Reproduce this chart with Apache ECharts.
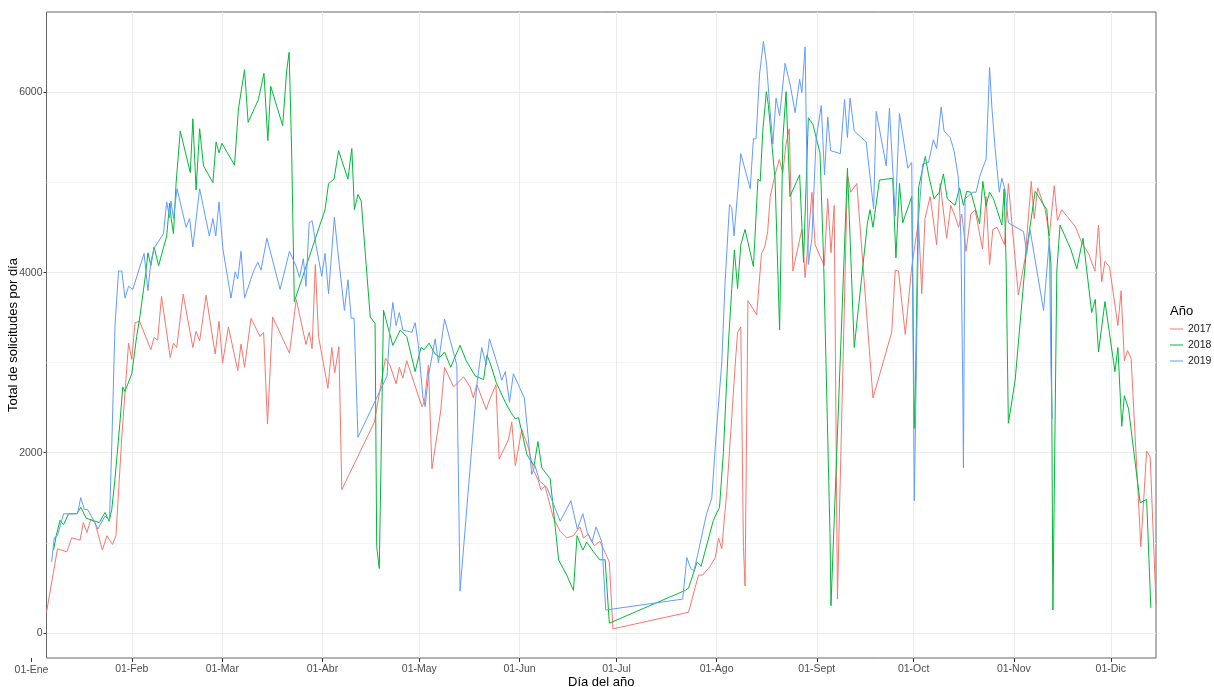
<!DOCTYPE html>
<html>
<head>
<meta charset="utf-8">
<script src="https://cdn.jsdelivr.net/npm/echarts@6/dist/echarts.min.js"></script>
<style>
  html, body { margin: 0; padding: 0; background: #fff; }
  #chart { width: 1214px; height: 687px; }
</style>
</head>
<body>
<div id="chart"></div>
<script>
// ==================== datos ====================
// día del año (0 = 01-Ene) y total de solicitudes por día

const monthDays = [31, 59, 90, 120, 151, 181, 212, 243, 273, 304, 334]
const monthLabels = ['01-Feb', '01-Mar', '01-Abr', '01-May', '01-Jun', '01-Jul', '01-Ago', '01-Sept', '01-Oct', '01-Nov', '01-Dic']
const yBreaks = [0, 2000, 4000, 6000]
const yMinorBreaks = [1000, 3000, 5000]
const years = ['2017', '2018', '2019']

const days2017 = [4.6, 8.0, 10.9, 12.4, 15.0, 16.0, 17.1, 18.3, 19.6, 21.9, 23.3, 25.0, 26.1, 27.9, 30.0, 31.0, 32.0, 33.4, 36.9, 37.9, 39.0, 40.2, 42.9, 43.9, 44.9, 46.9, 49.9, 50.9, 52.0,
  54.0, 56.8, 58.0, 59.1, 60.9, 63.8, 64.8, 65.9, 67.9, 70.7, 71.8, 73.0, 74.6, 79.8, 81.9, 84.9, 85.9, 86.8, 87.8, 88.8, 91.7, 92.9, 93.8, 95.1, 96.0, 106.1,
  109.5, 110.9, 112.8, 113.8, 114.9, 116.1, 120.8, 121.6, 122.8, 123.9, 126.6, 127.8, 130.6, 133.7, 135.7, 136.7, 137.8, 140.7, 141.7, 143.7, 144.7, 147.6, 148.6, 149.7,
  151.7, 153.8, 155.3, 156.9, 157.6, 158.9, 161.5, 163.6, 165.6, 167.7, 169.7, 170.8, 172.3, 174.1, 175.9, 178.8, 179.9, 203.3, 206.4, 207.7, 210.0, 211.6, 212.6, 213.6,
  215.2, 217.8, 218.5, 219.5, 220.3, 220.8, 221.7, 224.4, 225.9, 226.9, 227.8, 228.6, 230.1, 231.4, 232.5, 233.5, 234.5, 235.6, 238.4, 239.4, 240.4, 241.5, 242.5,
  245.3, 246.4, 247.4, 248.4, 249.4, 252.5, 253.5, 255.4, 260.4, 266.2, 267.3, 268.3, 270.4, 272.4, 273.4, 274.5, 275.5, 276.5, 278.1, 280.1, 281.2, 283.2, 284.5,
  285.8, 286.9, 287.9, 289.2, 290.7, 292.0, 294.3, 295.4, 296.5, 297.5, 298.8, 301.1, 302.3, 305.4, 307.5, 309.4, 310.3, 311.4, 313.7, 315.0, 316.5, 317.5, 318.8,
  323.0, 325.0, 327.1, 329.1, 330.2, 331.2, 332.2, 333.6, 336.2, 337.2, 338.2, 339.2, 340.3, 343.3, 345.1, 346.2, 348.0]
const vals2017 = [228, 933, 899, 1054, 1030, 1224, 1113, 1258, 1224, 918, 1079, 981, 1079, 2172, 3217, 3037, 3445, 3460, 3144, 3280, 3251, 3737, 3056, 3217, 3168, 3761, 3168, 3348, 3241,
  3751, 3095, 3460, 2998, 3397, 2911, 3207, 2949, 3494, 3290, 3338, 2318, 3508, 3105, 3703, 3202, 3338, 3154, 4091, 3290, 2716, 3168, 2886, 3178, 1589, 2342,
  3050, 2974, 2765, 2949, 2828, 3022, 2512, 2570, 2974, 1822, 2463, 2949, 2731, 2843, 2731, 2609, 2755, 2478, 2585, 2755, 1929, 2148, 2342, 1856,
  2259, 2050, 1808, 1686, 1589, 1628, 1273, 1127, 1054, 1079, 1176, 1054, 1093, 967, 1016, 787, 44, 228, 641, 641, 739, 836, 1054, 933,
  1589, 2998, 3338, 3397, 957, 520, 3688, 3532, 4213, 4286, 4456, 4845, 5087, 5257, 5112, 5427, 5598, 4018, 4480, 3946, 4383, 4893, 4310,
  4077, 4820, 4222, 4747, 374, 5087, 4893, 4990, 2609, 3338, 4028, 4018, 3314, 4067, 4310, 4577, 3766, 4601, 4845, 4310, 4990, 4383, 4747,
  4626, 4504, 4650, 4237, 4650, 4699, 4262, 4845, 4091, 4480, 4504, 4310, 4990, 3751, 4164, 5014, 4601, 4942, 4699, 4407, 4966, 4577, 4699,
  4514, 4334, 4213, 4018, 4529, 3897, 4125, 4067, 3411, 3800, 3022, 3134, 3047, 957, 2017, 1953, 326]

const days2018 = [6.8, 7.6, 8.8, 9.9, 11.4, 14.0, 15.2, 16.9, 20.9, 22.7, 24.0, 24.8, 25.8, 27.4, 28.2, 28.9, 31.0, 32.5, 33.6, 35.3, 36.0, 36.9, 37.9, 39.3, 41.8, 42.7, 43.2, 43.9, 44.7, 46.0,
  49.1, 49.9, 50.9, 52.0, 53.2, 56.1, 57.1, 58.0, 58.9, 62.8, 64.0, 65.9, 67.0, 70.2, 71.9, 73.1, 74.0, 77.7, 78.9, 79.7, 80.5, 81.3, 90.8, 91.9, 93.6, 95.0, 97.9, 99.1, 99.9,
  101.0, 102.0, 104.8, 106.3, 106.8, 107.6, 108.9, 111.8, 114.1, 116.1, 118.7, 120.5, 121.5, 123.0, 124.9, 126.4, 127.8, 129.7, 131.4, 132.6, 134.5, 137.3, 139.9, 140.9,
  141.9, 143.8, 146.6, 148.3, 149.7, 150.7, 153.3, 155.5, 156.7, 157.9, 160.5, 161.7, 163.1, 165.6, 167.7, 168.8, 170.6, 171.8, 173.9, 175.8, 177.5, 178.8,
  202.3, 203.3, 206.0, 207.2, 211.0, 212.9, 214.1, 215.7, 216.7, 217.5, 218.5, 219.5, 220.8, 223.4, 224.8, 225.5, 226.3, 227.4, 228.0, 230.1, 231.5, 232.5, 233.5,
  234.7, 237.7, 238.9, 240.4, 241.8, 244.0, 245.1, 247.1, 247.4, 252.5, 254.6, 258.7, 259.5, 260.4, 262.4, 266.5, 267.5, 268.6, 269.6, 272.4, 273.2, 273.5, 274.5,
  276.6, 277.6, 279.3, 280.9, 282.2, 283.4, 285.8, 287.2, 288.4, 289.4, 290.7, 293.4, 294.4, 295.4, 296.5, 297.7, 300.3, 301.0, 301.6, 302.3, 304.4, 307.8, 310.6,
  314.2, 315.5, 316.1, 317.3, 318.3, 321.6, 323.5, 325.4, 328.1, 329.2, 330.2, 332.2, 335.3, 336.2, 337.4, 338.2, 339.5, 343.1, 345.1, 346.4]
const vals2018 = [918, 1079, 1249, 1200, 1322, 1322, 1394, 1273, 1224, 1336, 1239, 1370, 1710, 2366, 2731, 2682, 2877, 3290, 3533, 3994, 4220, 4077, 4286, 4077, 4407, 4772, 4601, 4432, 4990, 5573,
  5112, 5709, 4917, 5598, 5185, 5000, 5452, 5330, 5437, 5194, 5816, 6254, 5670, 5923, 6215, 5466, 6069, 5632, 6229, 6448, 5306, 3678, 4699, 4990, 5039, 5355, 5039, 5379, 4699,
  4869, 4796, 3508, 3435, 957, 714, 3581, 3192, 3362, 3290, 2901, 3168, 3144, 3217, 3095, 3061, 3119, 2949, 3095, 3192, 3022, 2852, 2813, 3085,
  2998, 2779, 2561, 2449, 2376, 2391, 1978, 1856, 2123, 1832, 1710, 1297, 811, 641, 471, 1079, 918, 1006, 899, 811, 811, 107,
  471, 496, 787, 739, 1249, 1394, 2002, 3241, 3824, 4252, 3824, 4310, 4480, 4067, 5039, 5014, 5573, 6011, 5865, 5039, 3362, 5476, 6011,
  4845, 5087, 4115, 5719, 5646, 5330, 4164, 1103, 301, 5160, 3168, 4553, 4699, 4504, 5029, 5048, 4164, 4990, 4553, 4845, 2269, 2658, 4942,
  5291, 5087, 4820, 4893, 5097, 4820, 4747, 4942, 4747, 4903, 4893, 4543, 5014, 4747, 4893, 4820, 4529, 4932, 4116, 2327, 2804, 4213, 4903,
  4699, 4091, 253, 4018, 4529, 4262, 4043, 4383, 3557, 3703, 3119, 3678, 2901, 3168, 2293, 2634, 2488, 1443, 1482, 277]

const days2019 = [6.2, 7.0, 8.0, 9.9, 11.9, 14.2, 15.2, 16.3, 17.3, 19.6, 20.5, 22.7, 24.1, 24.8, 25.8, 26.9, 27.9, 28.9, 30.0, 31.3, 34.8, 36.0, 36.9, 37.9, 40.8, 41.8, 42.7, 43.1, 43.9, 45.0,
  47.8, 48.9, 49.9, 52.0, 55.0, 56.1, 57.0, 58.0, 59.2, 61.7, 63.0, 63.8, 64.8, 65.9, 68.7, 70.0, 71.0, 72.8, 76.9, 79.8, 81.9, 82.9, 84.1, 84.9, 85.9, 86.8, 88.0,
  89.8, 90.8, 91.9, 93.7, 94.7, 96.8, 97.9, 98.9, 99.8, 101.0, 110.0, 110.8, 111.8, 112.8, 113.8, 114.9, 117.7, 118.7, 119.7, 121.1, 121.8, 122.8, 124.9, 125.9, 127.8,
  131.6, 132.6, 137.8, 139.3, 140.7, 141.7, 144.5, 145.5, 146.6, 147.9, 149.1, 152.5, 154.8, 155.8, 157.2, 159.5, 163.6, 166.9, 168.9, 170.6, 172.0, 173.4, 174.7,
  176.5, 177.7, 201.5, 202.8, 204.0, 205.0, 206.1, 207.7, 208.9, 210.5, 211.8, 213.6, 214.6, 216.0, 216.7, 217.4, 219.5, 222.4, 223.4, 224.2, 225.3, 226.5, 227.5,
  228.4, 229.4, 230.4, 231.5, 233.2, 234.8, 236.3, 237.7, 238.4, 239.4, 240.4, 241.5, 242.8, 244.4, 245.4, 246.4, 247.3, 250.3, 251.6, 252.5, 253.3, 254.6, 258.3,
  260.6, 261.4, 264.5, 265.5, 267.3, 268.6, 271.2, 272.4, 273.2, 274.5, 275.8, 277.6, 279.1, 280.1, 281.5, 282.4, 284.3, 285.5, 286.8, 287.6, 288.2, 288.4, 288.9,
  291.3, 292.3, 293.4, 294.6, 295.4, 296.5, 297.2, 298.2, 299.5, 300.3, 301.3, 302.3, 307.0, 308.0, 309.0, 313.2, 315.0, 315.5, 315.9]
const vals2019 = [787, 1054, 1079, 1322, 1322, 1322, 1501, 1370, 1370, 1224, 1152, 1297, 1249, 2075, 3411, 4018, 4018, 3717, 3848, 3814, 4213, 3800, 4116, 4271, 4432, 4786, 4611, 4796, 4601, 4932,
  4504, 4601, 4286, 4932, 4407, 4601, 4407, 4786, 4262, 3717, 4009, 3931, 4237, 3717, 4018, 4116, 4028, 4383, 3814, 4237, 4067, 3946, 4155, 3848, 4553, 4577, 4310,
  3960, 4213, 3766, 4616, 4262, 3581, 3921, 3494, 3494, 2172, 2852, 3338, 3669, 3411, 3557, 3362, 3338, 3445, 3192, 2619, 2512, 2852, 3265, 2998, 3484,
  2974, 462, 2755, 3168, 2974, 3265, 2940, 2804, 2901, 2561, 2877, 2609, 1759, 1856, 1686, 1613, 1239, 1467, 1152, 1322, 1113, 1006, 1176,
  1006, 253, 374, 836, 714, 690, 860, 1127, 1322, 1492, 2172, 2998, 3873, 4757, 4723, 4407, 5321, 4932, 5486, 5486, 6205, 6569, 6302,
  5865, 5427, 5938, 5743, 6326, 6083, 5777, 6147, 6000, 6506, 4091, 4383, 5486, 5855, 5087, 5729, 5355, 5321, 5923, 5500, 5938, 5573, 5452,
  4708, 5792, 5185, 5826, 4626, 5768, 5160, 5224, 1467, 4601, 5209, 5224, 5476, 5379, 5841, 5573, 5500, 5355, 5063, 4407, 2731, 1832, 4820,
  4893, 4893, 5063, 5185, 5257, 6278, 5841, 5379, 4893, 5048, 4917, 4553, 4456, 4213, 4480, 3580, 4378, 2925, 2378]

const colors = ['#F8766D', '#00BA38', '#619CFF']

// ==================== gráfico ====================

const pairs = (xs, ys) => xs.map((d, i) => [d, ys[i]])
const seriesData = [pairs(days2017, vals2017), pairs(days2018, vals2018), pairs(days2019, vals2019)]

const FONT = '"Liberation Sans", Arial, sans-serif'
const X_MIN = 4.6
const X_MAX = 348

const chart = echarts.init(document.getElementById('chart'), null, { renderer: 'canvas' })

const option = {
  animation: false,
  backgroundColor: '#ffffff',
  textStyle: { fontFamily: FONT },
  title: {
    text: 'Año',
    left: 1170,
    top: 305,
    padding: 0,
    textStyle: { fontSize: 13, fontWeight: 'normal', color: '#000000', fontFamily: FONT }
  },
  legend: {
    data: years,
    orient: 'vertical',
    left: 1170,
    top: 323,
    padding: 0,
    icon: 'rect',
    itemWidth: 13,
    itemHeight: 1,
    itemGap: 4,
    textStyle: { fontSize: 10.5, color: '#1a1a1a', lineHeight: 12, fontFamily: FONT }
  },
  grid: {
    left: 46.5,
    right: 58,
    top: 12,
    bottom: 29,
    outerBoundsMode: 'none',
    containLabel: false,
    show: true,
    borderColor: '#666666',
    borderWidth: 1,
    backgroundColor: '#ffffff'
  },
  xAxis: {
    type: 'value',
    min: X_MIN,
    max: X_MAX,
    axisLine: { show: false, onZero: false },
    axisTick: { show: true, length: 4, customValues: monthDays, lineStyle: { color: '#333333' } },
    axisLabel: {
      customValues: monthDays,
      formatter: (v) => monthLabels[monthDays.indexOf(Math.round(v))] || '',
      color: '#4d4d4d',
      fontSize: 10.5,
      margin: 6
    },
    splitLine: { show: true, lineStyle: { color: '#ebebeb', width: 1 } },
    name: 'Día del año',
    nameLocation: 'middle',
    nameGap: 18,
    nameMoveOverlap: false,
    nameTextStyle: { color: '#000000', fontSize: 13 }
  },
  yAxis: [
    {
      type: 'value',
      min: -280,
      max: 6895,
      axisLine: { show: false, onZero: false },
      axisTick: { show: true, length: 3, customValues: yBreaks, lineStyle: { color: '#333333' } },
      axisLabel: { customValues: yBreaks, formatter: (v) => String(v), color: '#4d4d4d', fontSize: 10.5, margin: 4 },
      splitLine: { show: true, lineStyle: { color: '#ebebeb', width: 1 } },
      name: 'Total de solicitudes por día',
      nameLocation: 'middle',
      nameGap: 27,
      nameMoveOverlap: false,
      nameTextStyle: { color: '#000000', fontSize: 13 }
    },
    {
      // líneas menores de la rejilla
      type: 'value',
      min: -280,
      max: 6895,
      position: 'left',
      axisLine: { show: false, onZero: false },
      axisTick: { show: false, customValues: yMinorBreaks },
      axisLabel: { show: false, customValues: yMinorBreaks },
      splitLine: { show: true, lineStyle: { color: '#f4f4f4', width: 1 } }
    }
  ],
  graphic: [
    {
      type: 'text',
      x: 31.5,
      y: 670,
      style: { text: '01-Ene', fill: '#4d4d4d', font: '10.5px ' + FONT, align: 'center', verticalAlign: 'middle' }
    },
    {
      type: 'line',
      shape: { x1: 31.5, y1: 658, x2: 31.5, y2: 662 },
      style: { stroke: '#333333', lineWidth: 1 }
    }
  ],
  series: years.map((y, i) => ({
    name: y,
    type: 'line',
    data: seriesData[i],
    showSymbol: false,
    symbol: 'none',
    clip: true,
    color: colors[i],
    lineStyle: { color: colors[i], width: 1 },
    emphasis: { disabled: true }
  }))
}

chart.setOption(option)
</script>
</body>
</html>
